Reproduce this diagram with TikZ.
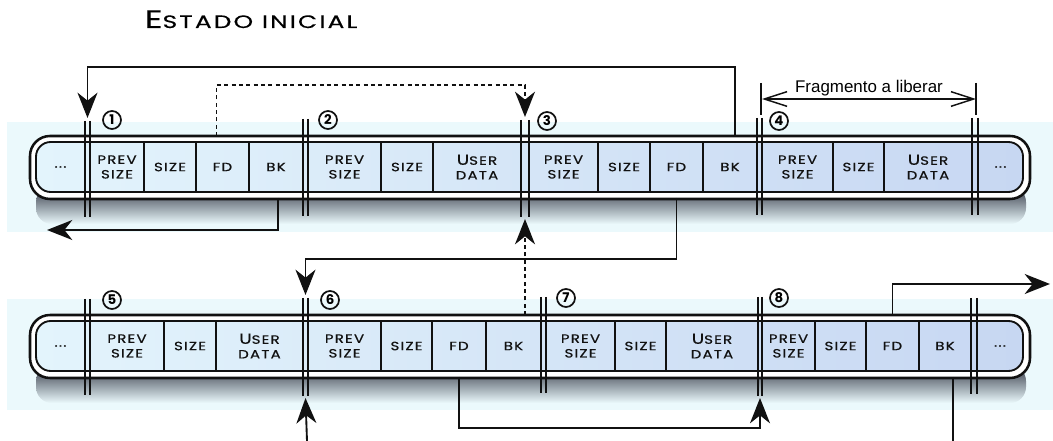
\documentclass[tikz,border=0pt]{standalone}
\usepackage{fontspec}
\setmainfont{Poppins}
\newfontfamily\capfont[FakeStretch=1.25,LetterSpace=10,FakeBold=0.5]{Poppins}
\newfontfamily\titlefont[FakeStretch=1.38,LetterSpace=12,FakeBold=0.4]{Poppins}
\newfontfamily\notefont{Liberation Sans}
\usetikzlibrary{arrows.meta,positioning}
\definecolor{MemInk}{HTML}{111111}
\definecolor{MemBand}{HTML}{EBF9FC}
\definecolor{MemCellL}{HTML}{E3F4FC}
\definecolor{MemCellR}{HTML}{C7D7F2}
\definecolor{MemShadow}{HTML}{2E3442}
\newcommand{\cellsm}{\capfont\fontsize{9}{11}\selectfont}
\newcommand{\cellbig}[1]{{\fontsize{11}{11}\selectfont #1}}
\tikzset{
  mem/cell/.style={
    minimum height=37.5pt, outer ysep=4.5pt, inner sep=0pt,
    align=center, font=\cellsm, text=MemInk
  },
  mem/outer/.style={draw=MemInk, line width=1.9pt, fill=white, rounded corners=15pt},
  mem/inner/.style={
    draw=MemInk, line width=1.4pt, left color=MemCellL, right color=MemCellR,
    rounded corners=11pt
  },
  mem/divider/.style={draw=MemInk, line width=1.1pt},
  mem/rule/.style={draw=MemInk, line width=1.2pt},
  mem/num/.style={
    circle, draw=MemInk, line width=1.3pt, inner sep=0pt, minimum size=13.5pt,
    font=\bfseries\fontsize{10}{10}\selectfont
  },
  mem/arrow/.style={
    -{Stealth[length=19pt,width=15pt,inset=6pt]}, line width=1.4pt, draw=MemInk
  },
  mem/dotarrow/.style={mem/arrow, dash pattern=on 3pt off 2.5pt},
  mem/wire/.style={line width=1.4pt, draw=MemInk},
  mem/span/.style={
    {Straight Barb[length=17pt,width=11pt]}-{Straight Barb[length=17pt,width=11pt]},
    line width=1.1pt, draw=MemInk
  },
  mem/note/.style={font=\notefont\fontsize{12.7}{14}\selectfont}
}

\begin{document}
\begin{tikzpicture}[x=.75pt,y=-.75pt]
  \useasboundingbox (0,0) rectangle (1053,441);
  \newcommand{\chunkbar}[1]{%
    \shade[top color=MemShadow, bottom color=MemBand, rounded corners=12pt]
      (36,#1+50) rectangle (1026,#1+88);
    \draw[mem/outer] (30,#1) rectangle (1030,#1+63);
    \draw[mem/inner] (36,#1+6) rectangle (1023,#1+56);}
  \newcommand{\splitmark}[5]{%
    \draw[mem/rule] (#2-#3,#4) -- (#2-#3,#5) (#2+#3,#4) -- (#2+#3,#5);
    \coordinate (#1t) at (#2,#4-3);
    \coordinate (#1b) at (#2,#5+2);}
  % background bands
  \fill[MemBand] (7,122) rectangle (1053,232);
  \fill[MemBand] (7,299) rectangle (1053,410);
  \node[font=\titlefont\fontsize{13.5}{15}\selectfont, anchor=base] (title) at (251,28)
    {{\fontsize{19}{15}\selectfont E}STADO INICIAL};
  % first row
  \chunkbar{136}
  \foreach \n/\a/\b/\t in {dotsa/36/85/{...}, pv1/90/144/{PREV\\SIZE}, sz1/144/196/SIZE,
      fd1/196/249/FD, bk1/249/303/BK, pv2/308/381/{PREV\\SIZE}, sz2/381/433/SIZE,
      ud2/433/521/{\cellbig{U}SER\\DATA}, pv3/529/598/{PREV\\SIZE}, sz3/598/650/SIZE,
      fd3/650/703/FD, bk3/703/757/BK, pv4/762/833/{PREV\\SIZE}, sz4/833/884/SIZE,
      ud4/884/972/{\cellbig{U}SER\\DATA}, dotsb/978/1023/{...}}
    \node[mem/cell, minimum width={(\b-\a)*0.75pt}] (\n) at ({(\a+\b)/2},167) {\t};
  \foreach \x in {144,196,249,381,433,598,650,703,833,884}
    \draw[mem/divider] (\x,142) -- (\x,192);
  \splitmark{p1}{87.5}{2.5}{121}{217}
  \splitmark{p2}{305.5}{2.5}{119}{216}
  \splitmark{p3}{525}{4}{120}{217}
  \splitmark{p4}{759.5}{2.5}{118}{215}
  \splitmark{q1}{975}{3}{118}{215}
  % second row
  \chunkbar{315}
  \foreach \n/\a/\b/\t in {dotsc/36/85/{...}, pv5/90/164/{PREV\\SIZE}, sz5/164/216/SIZE,
      ud5/216/303/{\cellbig{U}SER\\DATA}, pv6/308/381/{PREV\\SIZE}, sz6/381/432/SIZE,
      fd6/432/486/FD, bk6/486/541/BK, pv7/546/615/{PREV\\SIZE}, sz7/615/666/SIZE,
      ud7/666/758/{\cellbig{U}SER\\DATA}, pv8/762/815/{PREV\\SIZE}, sz8/815/866/SIZE,
      fd8/866/919/FD, bk8/919/971/BK, dotsd/977/1023/{...}}
    \node[mem/cell, minimum width={(\b-\a)*0.75pt}] (\n) at ({(\a+\b)/2},346) {\t};
  \foreach \x in {164,216,381,432,486,615,666,815,866,919}
    \draw[mem/divider] (\x,321) -- (\x,371);
  \splitmark{p5}{87.5}{2.5}{299}{395}
  \splitmark{p6}{305.5}{2.5}{298}{396}
  \splitmark{p7}{543.5}{2.5}{297}{393}
  \splitmark{p8}{760}{2}{297}{396}
  \splitmark{q2}{974}{3}{298}{394}
  % chunk numbers
  \foreach \k/\x/\y in {1/112/120, 2/328/120, 3/547/121, 4/779/121,
      5/112/300, 6/330/300, 7/566/298, 8/779/298}
    \node[mem/num] (n\k) at (\x,\y) {\k};
  % fragment to free
  \coordinate (fragL) at (762,99);
  \coordinate (fragR) at (976,99);
  \draw[mem/wire, line width=1.1pt] (761,83) -- (761,115) (976,83) -- (976,115);
  \draw[mem/span] (fragL) -- (fragR);
  \node[mem/note, anchor=base] (fraglbl) at (869,93) {Fragmento a liberar};
  % links
  \coordinate (out1) at (47,230);
  \coordinate (out2) at (1050,284);
  \coordinate (in6) at (307,441);
  \draw[mem/arrow] ([xshift=4pt]bk3.north) -- ++(0,-69) -| (p1t);
  \draw[mem/dotarrow] ([xshift=-4.5pt]fd1.north) -- ++(0,-51) -| (p3t);
  \draw[mem/arrow] ([xshift=1.5pt]bk1.south) |- (out1);
  \draw[mem/arrow] (fd3.south) -- ++(0,61) -| (p6t);
  \draw[mem/dotarrow] (bk6.north -| p3b) -- (p3b);
  \draw[mem/arrow] (in6) -- (p6b);
  \draw[mem/arrow] (fd6.south) -- ++(0,51) -| (p8b);
  \draw[mem/wire] ([xshift=6pt]bk8.south) -- ++(0,64);
  \draw[mem/arrow] (fd8.north) |- (out2);
\end{tikzpicture}
\end{document}
